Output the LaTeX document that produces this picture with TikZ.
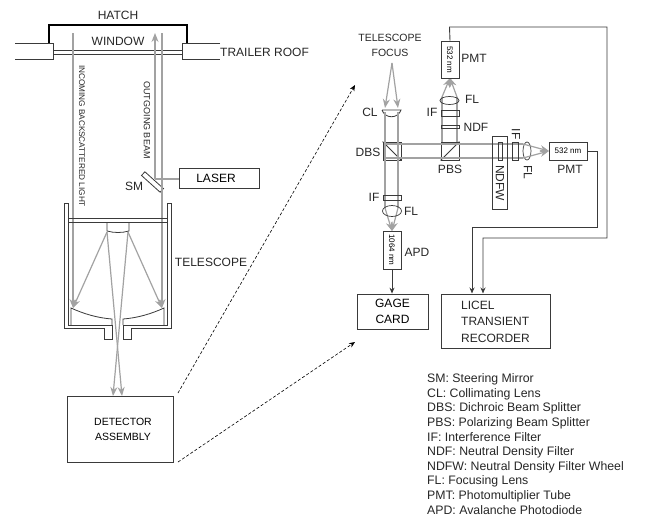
\documentclass[tikz,border=0pt]{standalone}
\usepackage{fontspec}
\setmainfont{Liberation Sans}
\usetikzlibrary{arrows.meta,shapes.geometric}
\definecolor{inkdark}{HTML}{3A3A3A}
\definecolor{beamgrey}{HTML}{A2A2A2}
\tikzset{
  box/.style={draw=inkdark, rectangle, line width=0.8pt, inner sep=0pt, align=center},
  optic/.style={draw=inkdark, rectangle, line width=0.8pt, inner sep=0pt, minimum width=18pt},
  lens/.style={draw=inkdark, ellipse, line width=0.7pt, inner sep=0pt},
  lbl/.style={inner sep=0pt, text=black!85, font=\fontsize{12}{12}\selectfont},
  tiny/.style={inner sep=0pt, text=black, font=\fontsize{8}{8}\selectfont},
  beam/.style={draw=beamgrey, line width=1.2pt},
  beamtip/.style={beam, -{Stealth[length=9pt,width=7pt]}},
  wire/.style={draw=inkdark, line width=0.9pt, -{Stealth[length=6pt,width=5pt]}},
  link/.style={draw=black, densely dashed, line width=0.6pt, -{Stealth[length=6pt,width=5pt]}},
  shell/.style={draw=inkdark, line width=0.8pt}
}
\begin{document}
\begin{tikzpicture}[x=1pt,y=-1pt]
\useasboundingbox (0,0) rectangle (649,517);
\node[lbl] (hatch) at (118,15) {HATCH};
\node[lbl] (window) at (118,41) {WINDOW};
\node[lbl, anchor=west] (roof) at (220,52) {TRAILER ROOF};
\draw[draw=black, line width=1.5pt] (49,43) -- (49,25) -- (187,25) -- (187,43);
\draw[shell] (15,43.5) -- (53,43.5) -- (53,59) -- (15,59);
\draw[shell] (220,43.5) -- (182,43.5) -- (182,59) -- (220,59);
\draw[shell] (53,50) -- (182,50);
\draw[shell] (53,54.5) -- (182,54.5);
\node[box, minimum width=80pt, minimum height=20pt, font=\fontsize{12}{12}\selectfont] (laser) at (219,178) {\hspace*{-6pt}LASER};
\node[box, minimum width=25pt, minimum height=5pt, rotate=-42] (sm) at (152.5,182) {};
\node[lbl] (smlabel) at (134,186) {SM};
\coordinate (inA) at (73,33);
\coordinate (inB) at (73,308);
\coordinate (outA) at (155,179);
\coordinate (outB) at (155,33);
\coordinate (retA) at (162,33);
\coordinate (retB) at (162,308);
\draw[beam] (laser.west |- outA) -- (outA);
\draw[beamtip] (outA) -- (outB);
\draw[beamtip] (inA) -- (inB);
\draw[beamtip] (retA) -- (retB);
\node[lbl, rotate=-90, font=\fontsize{8.2}{10}\selectfont] (incoming) at (82,136) {INCOMING BACKSCATTERED LIGHT};
\node[lbl, rotate=-90, font=\fontsize{9}{10}\selectfont] (outgoing) at (147,120) {OUTGOING BEAM};
\draw[shell] (68,203) -- (64,203) -- (64,328) -- (104,328) -- (104,339) -- (112,339) -- (112,325) -- (68,325) -- cycle;
\draw[shell] (167,203) -- (171,203) -- (171,328) -- (131,328) -- (131,339) -- (123,339) -- (123,325) -- (167,325) -- cycle;
\draw[shell] (68,218) -- (167,218) -- (167,222) -- (68,222) -- cycle;
\draw[shell] (107,222) -- (107,231) .. controls (114,233) and (122,233) .. (129,231) -- (129,222);
\draw[shell] (71,325) -- (71,308) .. controls (84,314) and (98,318) .. (112,319) -- (112,325);
\draw[shell] (164,325) -- (164,308) .. controls (151,314) and (137,318) .. (123,319) -- (123,325);
\node[box, minimum width=106pt, minimum height=66pt, font=\fontsize{10.5}{15}\selectfont] (detector) at (120,429) {\hspace*{6pt}DETECTOR\\\hspace*{6pt}ASSEMBLY};
\coordinate (secL) at (107,232);
\coordinate (secR) at (128,232);
\draw[beamtip] (secL) -- (inB);
\draw[beamtip] (secR) -- (retB);
\draw[beamtip] (secR) -- (113,396);
\draw[beamtip] (secL) -- (122,396);
\node[lbl] (telescope) at (211,262) {TELESCOPE};
\node[lbl, align=center, font=\fontsize{10.5}{15}\selectfont] (focus) at (390,45.5) {TELESCOPE\\FOCUS};
\coordinate (focusTip) at (392,63);
\node[optic, minimum height=18pt] (dbs) at (392,151) {};
\node[optic, minimum height=18pt] (pbs) at (450,151) {};
\draw[shell] (dbs.north west) -- (dbs.south east);
\draw[shell] (pbs.south west) -- (pbs.north east);
\node[lbl] (dbslabel) at (368,152) {DBS};
\node[lbl] (pbslabel) at (450,169) {PBS};
\node[lbl] (cllabel) at (370,112) {CL};
\draw[shell] (382,110) -- (401,110) .. controls (398,119) and (385,119) .. (382,110);
\draw[beamtip] (focusTip) -- (385,108);
\draw[beamtip] (focusTip) -- (398,108);
\draw[beam] (385,112) -- (385,208);
\draw[beam] (398,112) -- (398,208);
\draw[beamtip] (385,208) -- (392,231);
\draw[beamtip] (398,208) -- (392,231);
\node[optic, minimum height=5pt] (ifD) at (392,197.5) {};
\node[lens, minimum width=19pt, minimum height=11pt] (flD) at (392,211) {};
\node[lbl] (ifDlabel) at (374,197) {IF};
\node[lbl] (flDlabel) at (411,211) {FL};
\node[box, minimum width=18pt, minimum height=38pt] (apd) at (392,250) {};
\node[tiny, rotate=-90] (apdtext) at (apd) {1064 nm};
\node[lbl] (apdlabel) at (417,252) {APD};
\draw[beam] (384,144) -- (523,144);
\draw[beam] (384,158) -- (523,158);
\draw[beam] (442,142) -- (442,97);
\draw[beam] (457,142) -- (457,97);
\draw[beamtip] (442,97) -- (450,78);
\draw[beamtip] (457,97) -- (450,78);
\node[box, minimum width=18pt, minimum height=37pt] (pmtT) at (450,59.5) {};
\node[tiny, rotate=-90] (pmtTtext) at (pmtT) {532 nm};
\node[lbl] (pmtTlabel) at (474,58) {PMT};
\node[lens, minimum width=19pt, minimum height=8pt] (flT) at (449.5,100.5) {};
\node[lbl] (flTlabel) at (472,99) {FL};
\node[optic, minimum height=6pt] (ifT) at (450,113) {};
\node[lbl] (ifTlabel) at (432,112) {IF};
\node[optic, minimum height=3pt] (ndf) at (450,126.5) {};
\node[lbl] (ndflabel) at (476,127) {NDF};
\node[box, minimum width=15pt, minimum height=73pt] (ndfw) at (499.5,172.5) {};
\node[lbl, rotate=-90] (ndfwlabel) at (500,183) {NDFW};
\node[box, minimum width=4pt, minimum height=18pt] (ndfwin) at (500,151) {};
\node[box, minimum width=6pt, minimum height=18pt] (ifR) at (515,151) {};
\node[lbl, rotate=-90] (ifRlabel) at (516,134) {IF};
\node[lens, minimum width=8pt, minimum height=18pt] (flR) at (527,151) {};
\node[lbl, rotate=-90] (flRlabel) at (528,172) {FL};
\coordinate (pmtRtip) at (549,151);
\draw[beamtip] (523,144) -- (pmtRtip);
\draw[beamtip] (523,158) -- (pmtRtip);
\node[box, minimum width=38pt, minimum height=18pt] (pmtR) at (568,151) {};
\node[tiny] (pmtRtext) at (pmtR) {532 nm};
\node[lbl] (pmtRlabel) at (570,169) {PMT};
\node[box, minimum width=71pt, minimum height=35pt, font=\fontsize{12}{16}\selectfont] (gage) at (392.5,311.5) {GAGE\\CARD};
\node[box, minimum width=109pt, minimum height=54pt] (licel) at (495.5,321) {};
\node[lbl, anchor=west, align=left, font=\fontsize{12}{16.5}\selectfont] (liceltext) at (461,321.5) {LICEL\\TRANSIENT\\RECORDER};
\draw[wire] (apd.south) -- (gage.north -| apd.south);
\coordinate (licelA) at (472,293.5);
\coordinate (licelB) at (483,293.5);
\draw[wire] (pmtR.east) -- (597,151) -- (597,227) -- (472,227) -- (licelA);
\draw[wire] (pmtT.north) -- (449.5,27) -- (607,27) -- (607,238) -- (483,238) -- (licelB);
\coordinate (linkA) at (178,393);
\coordinate (linkB) at (178,462);
\coordinate (linkAend) at (355,85);
\coordinate (linkBend) at (355,342);
\draw[link] (linkA) -- (linkAend);
\draw[link] (linkB) -- (linkBend);
\node[inner sep=0pt, anchor=north west, align=left, text=black!85, font=\fontsize{12.3}{14.6}\selectfont] (legend) at (427,373.5) {SM: Steering Mirror\\CL: Collimating Lens\\DBS: Dichroic Beam Splitter\\PBS: Polarizing Beam Splitter\\IF: Interference Filter\\NDF: Neutral Density Filter\\NDFW: Neutral Density Filter Wheel\\FL: Focusing Lens\\PMT: Photomultiplier Tube\\APD: Avalanche Photodiode};
\end{tikzpicture}
\end{document}
